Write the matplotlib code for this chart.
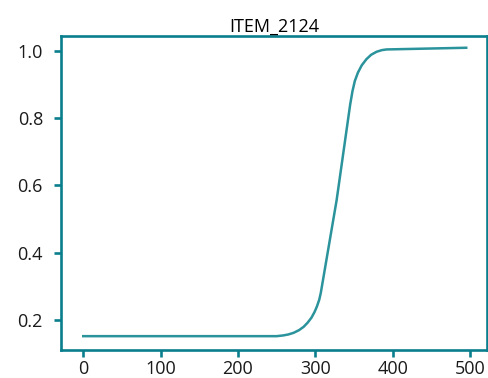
import matplotlib
matplotlib.use("Agg")
import matplotlib.pyplot as plt

# curve
x_vals = [0, 250, 258, 265, 272, 279, 285, 290, 295, 299, 302, 305, 307,
          327.5, 345, 348, 351, 355, 360, 366, 372, 379, 386, 392, 495]
y_vals = [0.152, 0.152, 0.154, 0.157, 0.162, 0.170, 0.180, 0.192, 0.207, 0.224, 0.240, 0.260, 0.280,
          0.556, 0.84, 0.88, 0.91, 0.935, 0.957, 0.975, 0.988, 0.997, 1.002, 1.004, 1.009]
title = "ITEM_2124"

spine_col = "#0a7e8c"
line_col = "#2a939b"

plt.rcParams['font.family'] = ['Open Sans', 'DejaVu Sans']

fig = plt.figure(figsize=(4.89, 3.78), dpi=100)
ax = fig.add_axes([0.1247, 0.0733, 0.8706, 0.8315])
ax.plot(x_vals, y_vals, color=line_col, linewidth=1.8)
ax.set_xlim(-28.8, 521.5)
ax.set_ylim(0.110, 1.044)
ax.set_xticks([0, 100, 200, 300, 400, 500])
ax.set_yticks([0.2, 0.4, 0.6, 0.8, 1.0])
for s in ax.spines.values():
    s.set_color(spine_col)
    s.set_linewidth(1.9)
ax.tick_params(axis='both', colors=spine_col, labelcolor='#1a1a1a', length=5, width=1.9, labelsize=13)
ax.tick_params(axis='y', pad=8)
ax.tick_params(axis='x', pad=2)
ax.set_title(title, fontsize=13, pad=2)

fig.savefig("out.png", dpi=100)
